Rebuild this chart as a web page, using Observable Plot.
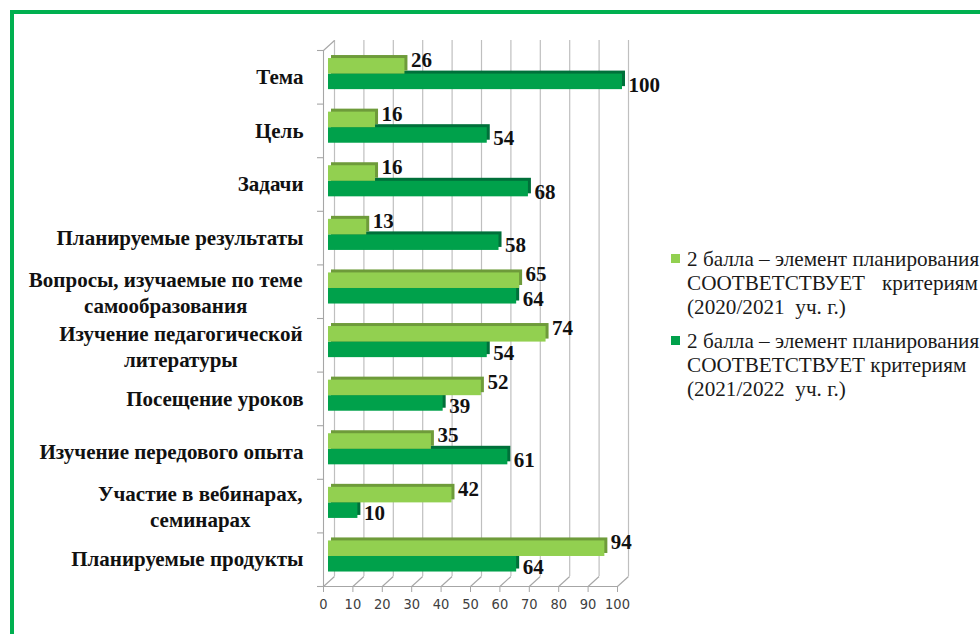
<!DOCTYPE html>
<html>
<head>
<meta charset="utf-8">
<script src="https://cdn.jsdelivr.net/npm/d3@7"></script>
<script src="https://cdn.jsdelivr.net/npm/@observablehq/plot@0.6"></script>
<style>
  html, body { margin: 0; padding: 0; background: #fff; }
  #wrap { position: relative; width: 980px; height: 634px; overflow: hidden; background: #fff; }
  .bord { position: absolute; background: #00B050; }
  #chart { position: absolute; left: 0; top: 0; }
  #legend { position: absolute; left: 670px; top: 247px; font-family: "Liberation Serif", "Times New Roman", serif; font-size: 21.2px; color: #1a1a1a; line-height: 24px; }
  .entry { position: relative; padding-left: 17px; margin-bottom: 10px; white-space: nowrap; }
  .sw { position: absolute; left: 1px; top: 7px; width: 9px; height: 9px; }
  .just { display: flex; justify-content: space-between; width: 291px; }
</style>
</head>
<body>
<div id="wrap">
  <div class="bord" style="left:10px;top:10px;width:970px;height:4px"></div>
  <div class="bord" style="left:10px;top:10px;width:4px;height:624px"></div>
  <div id="chart"></div>
  <div id="legend"></div>
</div>
<script>
// ---- data ----
const categories = [
  "Тема",
  "Цель",
  "Задачи",
  "Планируемые результаты",
  "Вопросы, изучаемые по теме\nсамообразования",
  "Изучение педагогической\nлитературы",
  "Посещение уроков",
  "Изучение передового опыта",
  "Участие в вебинарах,\nсеминарах",
  "Планируемые продукты"
];
const values2021 = [26, 16, 16, 13, 65, 74, 52, 35, 42, 94];
const values2022 = [100, 54, 68, 58, 64, 54, 39, 61, 10, 64];
const xTicks = [0, 10, 20, 30, 40, 50, 60, 70, 80, 90, 100];
const seriesNames = [
  ["2 балла – элемент планирования", "СООТВЕТСТВУЕТ критериям", "(2020/2021  уч. г.)"],
  ["2 балла – элемент планирования", "СООТВЕТСТВУЕТ критериям", "(2021/2022  уч. г.)"]
];

// ---- style ----
const LIGHT = "#92D050", LIGHT_SIDE = "#6E9B3A";
const DARK = "#00A14B", DARK_SIDE = "#00703A";
const GRID = "#BFBFBF", AXIS = "#A6A6A6";
const SERIF = "'Liberation Serif', 'Times New Roman', serif";
const SANS = "'DejaVu Sans Condensed', 'Roboto', sans-serif";
const W = 980, H = 634, mL = 323, mR = 363, mT = 50, mB = 48;
const kx = 100 / (W - mL - mR), ky = 10 / (H - mT - mB);
const DEPTH_X = 11, DEPTH_Y = 10;   // back wall offset, px
const BAR_DX = 5, EXT = 3;          // bar depth position / extrusion, px
const CAT_SIZE = 21, VAL_SIZE = 21;

const rows = categories.map((c, i) => ({ i, cat: c, a: values2021[i], b: values2022[i] }));

// measure label widths for centered multi-line labels
const cv = document.createElement("canvas").getContext("2d");
cv.font = `bold ${CAT_SIZE}px 'Liberation Serif', 'Times New Roman', serif`;
const maxW = s => Math.max(...s.split("\n").map(t => cv.measureText(t).width));
const single = rows.filter(d => !d.cat.includes("\n"));
const multi = rows.filter(d => d.cat.includes("\n"));

const marks = [
  // back wall gridlines
  Plot.ruleX(xTicks, { x: d => d, y1: 0, y2: 10, dx: DEPTH_X, dy: -DEPTH_Y, stroke: GRID, strokeWidth: 1.2 }),
  // floor diagonals
  Plot.link(xTicks, { x1: d => d, y1: 10, x2: d => d + DEPTH_X * kx, y2: 10 - DEPTH_Y * ky, stroke: AXIS, strokeWidth: 1.1 }),
  // left wall
  Plot.ruleX([0], { x: d => d, y1: 0, y2: 10, stroke: AXIS, strokeWidth: 1.1 }),
  Plot.link([0], { x1: 0, y1: 0, x2: DEPTH_X * kx, y2: -DEPTH_Y * ky, stroke: AXIS, strokeWidth: 1.1 }),
  Plot.ruleY(d3.range(categories.length + 1), { y: d => d, x1: -6 * kx, x2: 0, stroke: AXIS, strokeWidth: 1.1 }),
  // floor front line
  Plot.ruleY([10], { y: d => d, x1: -6 * kx, x2: 100, stroke: AXIS, strokeWidth: 1.1 }),
  Plot.axisX({ ticks: xTicks, tickSize: 6, tickPadding: 6, stroke: AXIS, fill: "#404040", fontSize: 14.5, fontFamily: SANS, label: null }),

  // dark bars (2021/2022)
  Plot.rect(rows, { x1: 0, x2: "b", y1: d => d.i + 0.44, y2: d => d.i + 0.73, dx: BAR_DX + EXT, dy: -EXT, fill: DARK_SIDE }),
  Plot.rect(rows, { x1: 0, x2: "b", y1: d => d.i + 0.44, y2: d => d.i + 0.73, dx: BAR_DX, fill: DARK }),
  // light bars (2020/2021)
  Plot.rect(rows, { x1: 0, x2: "a", y1: d => d.i + 0.15, y2: d => d.i + 0.44, dx: BAR_DX + EXT, dy: -EXT, fill: LIGHT_SIDE }),
  Plot.rect(rows, { x1: 0, x2: "a", y1: d => d.i + 0.15, y2: d => d.i + 0.44, dx: BAR_DX, fill: LIGHT }),

  // value labels
  Plot.text(rows, { x: "a", y: d => d.i + 0.295, text: d => String(d.a), dx: 11, dy: -6, textAnchor: "start",
    fontSize: VAL_SIZE, fontWeight: "bold", fontFamily: SERIF, fill: "#111" }),
  Plot.text(rows, { x: "b", y: d => d.i + 0.585, text: d => String(d.b), dx: 11, dy: 3, textAnchor: "start",
    fontSize: VAL_SIZE, fontWeight: "bold", fontFamily: SERIF, fill: "#111" }),

  // category labels
  Plot.text(single, { x: 0, y: d => d.i + 0.5, text: "cat", dx: -20, textAnchor: "end",
    fontSize: CAT_SIZE, fontWeight: "bold", fontFamily: SERIF, fill: "#111" }),
  ...multi.map(d => Plot.text([d], { x: 0, y: r => r.i + 0.5, text: "cat", dx: -21 - maxW(d.cat) / 2, textAnchor: "middle",
    lineHeight: 1.24, fontSize: CAT_SIZE, fontWeight: "bold", fontFamily: SERIF, fill: "#111" }))
];

const chart = Plot.plot({
  width: W, height: H,
  marginLeft: mL, marginRight: mR, marginTop: mT, marginBottom: mB,
  x: { domain: [0, 100], axis: null },
  y: { domain: [0, 10], reverse: true, axis: null },
  style: { background: "transparent", overflow: "visible" },
  marks
});
document.getElementById("chart").appendChild(chart);

// legend
const leg = document.getElementById("legend");
[LIGHT, DARK].forEach((col, k) => {
  const e = document.createElement("div");
  e.className = "entry";
  const sw = document.createElement("div");
  sw.className = "sw"; sw.style.background = col;
  e.appendChild(sw);
  seriesNames[k].forEach((line, j) => {
    const l = document.createElement("div");
    if (k === 0 && j === 1) {
      l.className = "just";
      line.split(" ").forEach(w => { const s = document.createElement("span"); s.textContent = w; l.appendChild(s); });
    } else {
      l.textContent = line;
      l.style.whiteSpace = "pre";
    }
    e.appendChild(l);
  });
  leg.appendChild(e);
});
</script>
</body>
</html>
